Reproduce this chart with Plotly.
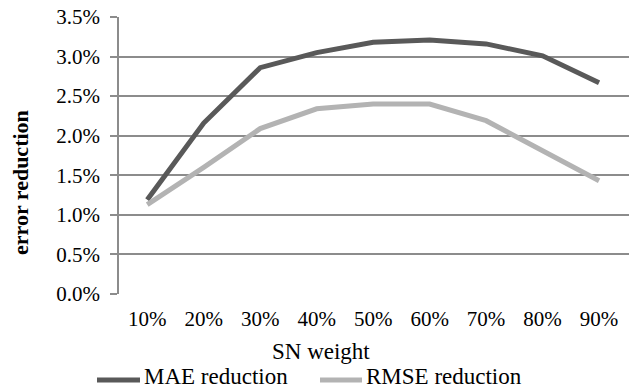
import plotly.graph_objects as go

categories = ["10%", "20%", "30%", "40%", "50%", "60%", "70%", "80%", "90%"]
mae_reduction = [0.0119, 0.0216, 0.0286, 0.0305, 0.0318, 0.0321, 0.0316, 0.0301, 0.0267]
rmse_reduction = [0.0113, 0.0160, 0.0209, 0.0234, 0.0240, 0.0240, 0.0219, 0.0181, 0.0143]
series_names = ["MAE reduction", "RMSE reduction"]
x_title = "SN weight"
y_title = "error reduction"

MAE_COLOR = "#595959"
RMSE_COLOR = "#b3b3b3"
GRID = "#8c8c8c"
FONT = "Liberation Serif"

W, H = 629, 391
L, R, T, B = 119, 0, 17, 97
pw, ph = W - L - R, H - T - B

def px(xp):
    return (xp - L) / pw

def py(yp):
    return (H - B - yp) / ph

fig = go.Figure()
fig.add_trace(go.Scatter(x=categories, y=mae_reduction, mode="lines", name=series_names[0],
                         line=dict(color=MAE_COLOR, width=5), showlegend=False))
fig.add_trace(go.Scatter(x=categories, y=rmse_reduction, mode="lines", name=series_names[1],
                         line=dict(color=RMSE_COLOR, width=5), showlegend=False))

# manual legend
legend_items = [(series_names[0], MAE_COLOR, 97, 140, 142), (series_names[1], RMSE_COLOR, 320, 362, 364)]
for name, col, x0, x1, xt in legend_items:
    fig.add_shape(type="line", xref="paper", yref="paper", x0=px(x0), x1=px(x1), y0=py(380), y1=py(380),
                  line=dict(color=col, width=5))
    fig.add_annotation(text=name, xref="paper", yref="paper", x=px(xt), y=py(390.5), xanchor="left",
                       yanchor="bottom", showarrow=False, font=dict(family=FONT, size=23, color="black"))

fig.add_annotation(text="<b>" + y_title + "</b>", xref="paper", yref="paper", x=px(20), y=py(183),
                   xanchor="center", yanchor="middle", textangle=-90, showarrow=False,
                   font=dict(family=FONT, size=22, color="black"))
fig.add_annotation(text=x_title, xref="paper", yref="paper", x=px(321), y=py(351),
                   xanchor="center", yanchor="middle", showarrow=False,
                   font=dict(family=FONT, size=23, color="black"))

fig.update_layout(
    width=W, height=H,
    margin=dict(l=L, r=R, t=T, b=B, pad=0),
    paper_bgcolor="white", plot_bgcolor="white",
    font=dict(family=FONT, size=21, color="black"),
    xaxis=dict(type="category", range=[-0.5, 8.53], showgrid=False, showline=False,
               ticks="", tickfont=dict(family=FONT, size=21), ticklabelstandoff=10, zeroline=False),
    yaxis=dict(range=[0, 0.035], dtick=0.005, tickformat=".1%", showgrid=True, gridcolor=GRID,
               gridwidth=1.5, showline=True, linecolor=GRID, linewidth=1.5, ticks="outside",
               ticklen=7, tickcolor=GRID, tickwidth=1.5, zeroline=False,
               tickfont=dict(family=FONT, size=21), ticklabelstandoff=6),
)

fig.write_html("out.html")
